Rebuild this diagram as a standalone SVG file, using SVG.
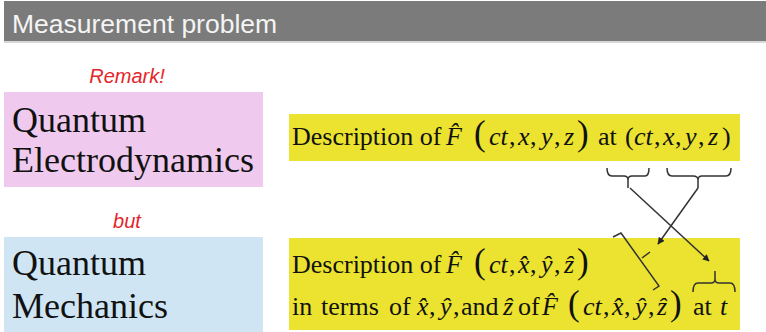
<svg xmlns="http://www.w3.org/2000/svg" width="766" height="332" viewBox="0 0 766 332">
<style>
.hdr{font-family:"Liberation Sans",Arial,sans-serif;font-size:26.5px;fill:#f4f4f4}
.red{font-family:"Liberation Sans",Arial,sans-serif;font-style:italic;font-size:20px;fill:#e4262b;text-anchor:middle}
.big{font-family:"Liberation Serif","Times New Roman",serif;font-size:36px;fill:#111}
.tx{font-family:"Liberation Serif","Times New Roman",serif;font-size:26px;fill:#111}
.i{font-style:italic}
.p{font-size:35px}
.ln{fill:none;stroke:#333;stroke-width:1.5}
</style>
<defs>
<marker id="ah" viewBox="0 0 10 10" refX="9" refY="5" markerWidth="7" markerHeight="7" orient="auto-start-reverse" markerUnits="userSpaceOnUse">
<path d="M0,0 L10,5 L0,10 z" fill="#222"/>
</marker>
</defs>
<rect width="766" height="332" fill="#fff"/>
<g id="header">
<rect x="4" y="1" width="762" height="40" fill="#7b7b7b"/>
<rect x="4" y="41" width="762" height="2" fill="#d8d8d8"/>
<text class="hdr" x="12" y="33">Measurement problem</text>
</g>
<g id="remark"><text class="red" x="127" y="83">Remark!</text></g>
<g id="but"><text class="red" x="127" y="228">but</text></g>
<g id="qed">
<rect x="4" y="92" width="259" height="95" fill="#efcaee"/>
<text class="big" x="12" y="132">Quantum</text>
<text class="big" x="12" y="172">Electrodynamics</text>
</g>
<g id="qm">
<rect x="4" y="237" width="259" height="95" fill="#cfe5f3"/>
<text class="big" x="12" y="275">Quantum</text>
<text class="big" x="12" y="318">Mechanics</text>
</g>
<g id="qed-desc">
<rect x="289" y="114" width="451" height="47" fill="#ebe32f"/>
<text class="tx" y="145"><tspan x="292">Description of</tspan><tspan x="446" class="i">F&#770;</tspan><tspan x="474" class="p">(</tspan><tspan x="489" class="i">ct</tspan><tspan x="509">,</tspan><tspan x="518" class="i">x</tspan><tspan x="530">,</tspan><tspan x="541" class="i">y</tspan><tspan x="554">,</tspan><tspan x="564" class="i">z</tspan><tspan x="577" class="p">)</tspan><tspan x="598">at</tspan><tspan x="625">(</tspan><tspan x="634" class="i">ct</tspan><tspan x="654">,</tspan><tspan x="663" class="i">x</tspan><tspan x="675">,</tspan><tspan x="685" class="i">y</tspan><tspan x="698">,</tspan><tspan x="708" class="i">z</tspan><tspan x="722">)</tspan></text>
</g>
<g id="qm-desc">
<rect x="289" y="238" width="451" height="92" fill="#ebe32f"/>
<text class="tx" y="273"><tspan x="292">Description of</tspan><tspan x="446" class="i">F&#770;</tspan><tspan x="474" class="p">(</tspan><tspan x="489" class="i">ct</tspan><tspan x="509">,</tspan><tspan x="518" class="i">x&#770;</tspan><tspan x="530">,</tspan><tspan x="541" class="i">y&#770;</tspan><tspan x="554">,</tspan><tspan x="564" class="i">z&#770;</tspan><tspan x="577" class="p">)</tspan></text>
<text class="tx" y="315"><tspan x="292">in</tspan><tspan x="321">terms</tspan><tspan x="389">of</tspan><tspan x="417" class="i">x&#770;</tspan><tspan x="429">,</tspan><tspan x="440" class="i">y&#770;</tspan><tspan x="453">,</tspan><tspan x="461">and</tspan><tspan x="503" class="i">z&#770;</tspan><tspan x="518">of</tspan><tspan x="542" class="i">F&#770;</tspan><tspan x="568" class="p">(</tspan><tspan x="583" class="i">ct</tspan><tspan x="603">,</tspan><tspan x="612" class="i">x&#770;</tspan><tspan x="624">,</tspan><tspan x="635" class="i">y&#770;</tspan><tspan x="648">,</tspan><tspan x="657" class="i">z&#770;</tspan><tspan x="670" class="p">)</tspan><tspan x="693">at</tspan><tspan x="720" class="i">t</tspan></text>
</g>
<g id="connectors">
<path class="ln" d="M607,168 Q607,176 612,176 L624,176 Q628,176 628,180 L628,188 M628,180 Q628,176 632,176 L645,176 Q649,176 649,168"/>
<path class="ln" d="M667,168 Q667,176 672,176 L693,176 Q698,176 698,180 L698,188 M698,180 Q698,176 702,176 L726,176 Q731,176 731,168"/>
<path class="ln" d="M613,237 L621,233 L659,286 L653,290 M642,258 L650,252"/>
<path class="ln" d="M693,292 Q693,283 698,283 L711,283 Q715,283 715,279 L715,271 M715,279 Q715,283 719,283 L730,283 Q735,283 735,292"/>
<line class="ln" x1="630" y1="188" x2="709" y2="261" marker-end="url(#ah)"/>
<line class="ln" x1="698" y1="188" x2="658" y2="244" marker-end="url(#ah)"/>
</g>
</svg>
